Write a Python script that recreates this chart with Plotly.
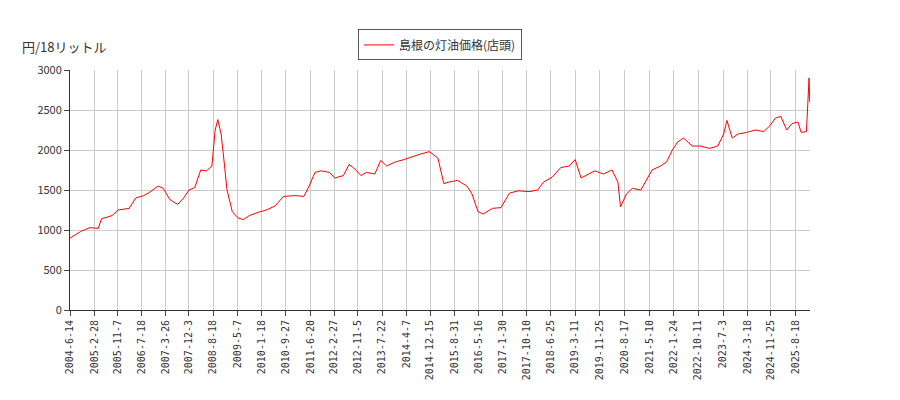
import plotly.graph_objects as go

dates = ["2004-06-14","2004-10-04","2005-01-10","2005-04-11","2005-05-16","2005-09-05","2005-11-07","2006-03-06","2006-05-15","2006-08-07","2006-10-09","2007-01-08","2007-03-05","2007-05-14","2007-08-06","2007-10-08","2007-12-03","2008-02-04","2008-04-07","2008-06-09","2008-08-04","2008-09-08","2008-10-06","2008-11-10","2008-12-08","2009-01-12","2009-03-09","2009-05-11","2009-07-06","2009-09-07","2009-12-07","2010-03-08","2010-06-07","2010-09-06","2011-01-10","2011-04-11","2011-06-06","2011-08-08","2011-10-10","2012-01-09","2012-03-05","2012-06-04","2012-08-06","2012-10-08","2012-12-10","2013-02-04","2013-05-06","2013-07-08","2013-09-09","2013-12-09","2014-03-10","2014-06-09","2014-09-08","2014-12-08","2015-03-09","2015-05-11","2015-07-06","2015-10-05","2016-01-11","2016-03-07","2016-05-09","2016-07-04","2016-10-10","2017-01-09","2017-04-10","2017-07-10","2017-11-06","2018-02-05","2018-04-09","2018-07-09","2018-10-08","2019-01-07","2019-03-11","2019-05-13","2019-08-05","2019-10-07","2020-01-06","2020-04-06","2020-06-08","2020-07-06","2020-09-07","2020-11-09","2021-02-08","2021-04-05","2021-06-07","2021-09-06","2021-11-08","2022-01-10","2022-03-07","2022-05-09","2022-08-08","2022-11-07","2023-02-06","2023-05-08","2023-07-10","2023-08-14","2023-10-09","2023-12-11","2024-03-11","2024-06-10","2024-09-09","2024-11-11","2025-01-13","2025-03-10","2025-05-12","2025-07-07","2025-09-08","2025-10-13","2025-12-08","2026-01-05","2026-01-12"]
values = [900,980,1030,1020,1140,1180,1250,1270,1400,1430,1470,1550,1520,1380,1320,1400,1500,1530,1750,1740,1800,2250,2380,2200,1900,1500,1230,1150,1130,1180,1220,1250,1300,1420,1430,1420,1550,1720,1740,1720,1650,1680,1820,1760,1680,1720,1700,1870,1800,1850,1880,1920,1950,1980,1900,1580,1600,1620,1550,1450,1230,1200,1270,1280,1460,1490,1480,1500,1600,1660,1780,1800,1880,1650,1700,1740,1700,1750,1600,1290,1450,1520,1500,1620,1750,1800,1850,2000,2100,2150,2050,2050,2020,2050,2200,2370,2150,2200,2220,2250,2230,2300,2400,2420,2250,2330,2350,2220,2230,2900,2600]
tick_dates = ["2004-06-14","2005-02-28","2005-11-07","2006-07-18","2007-03-26","2007-12-03","2008-08-18","2009-05-07","2010-01-18","2010-09-27","2011-06-20","2012-02-27","2012-11-05","2013-07-22","2014-04-07","2014-12-15","2015-08-31","2016-05-16","2017-01-30","2017-10-10","2018-06-25","2019-03-11","2019-11-25","2020-08-17","2021-05-10","2022-01-24","2022-10-11","2023-07-03","2024-03-18","2024-11-25","2025-08-18"]
tick_labels = ["-".join(str(int(p)) for p in d.split("-")) for d in tick_dates]

fig = go.Figure(go.Scatter(x=dates, y=values, mode="lines", line=dict(color="red", width=1), name="島根の灯油価格(店頭)"))
fig.update_layout(
    width=900, height=400, margin=dict(l=62, r=98, t=62, b=98, autoexpand=False),
    plot_bgcolor="white", paper_bgcolor="white",
    font=dict(family="Noto Sans CJK JP", size=11, color="#333"),
    showlegend=True,
    legend=dict(x=0.5, y=1.04, xanchor="center", yanchor="bottom", bordercolor="#555", borderwidth=1, font=dict(size=12)),
    annotations=[dict(text="円/18リットル", xref="paper", yref="paper", x=-0.068, y=1.05, xanchor="left", yanchor="bottom", showarrow=False, font=dict(size=13))],
)
fig.update_xaxes(range=["2004-06-14", "2026-01-15"], tickvals=tick_dates, ticktext=tick_labels, tickangle=-90,
                 showgrid=True, gridcolor="#ccc", showline=True, linecolor="#333", ticks="outside",
                 tickfont=dict(family="DejaVu Sans Mono", size=10))
fig.update_yaxes(range=[0, 3000], dtick=500, showgrid=True, gridcolor="#ccc", showline=True, linecolor="#333", ticks="outside")
fig.write_html("out.html")
